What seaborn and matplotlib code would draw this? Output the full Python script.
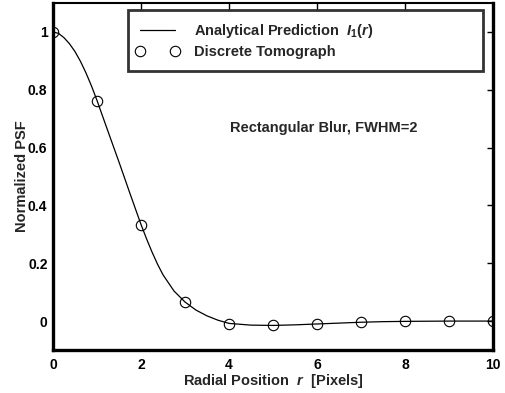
import matplotlib
matplotlib.use("Agg")
import matplotlib.pyplot as plt
from matplotlib.lines import Line2D
from matplotlib.legend_handler import HandlerLine2D
import seaborn as sns
import pandas as pd

# Analytical curve values
curve_r = [0, 0.125, 0.25, 0.375, 0.5, 0.625, 0.75, 0.875, 1.0, 1.25, 1.5, 1.75,
           2.0, 2.125, 2.25, 2.375, 2.5, 2.75, 3.0, 3.25, 3.5, 3.75, 4.0, 4.5, 5.0,
           5.5, 6.0, 6.5, 7.0, 7.5, 8.0, 9.0, 10.0]
curve_psf = [1.0, 0.995, 0.98, 0.959, 0.932, 0.898, 0.858, 0.813, 0.763, 0.656,
             0.55, 0.441, 0.334, 0.285, 0.239, 0.197, 0.160, 0.104, 0.066, 0.038,
             0.018, 0.003, -0.008, -0.014, -0.015, -0.013, -0.010, -0.007, -0.004,
             -0.002, -0.001, 0.0, 0.0]

# Discrete tomograph samples
disc_r = [0, 1, 2, 3, 4, 5, 6, 7, 8, 9, 10]
disc_psf = [1.0, 0.762, 0.334, 0.067, -0.009, -0.015, -0.009, -0.004, 0.0, 0.0, 0.0]

x_ticks = [0, 2, 4, 6, 8, 10]
y_ticks = [0, 0.2, 0.4, 0.6, 0.8, 1.0]
y_tick_labels = ["0", "0.2", "0.4", "0.6", "0.8", "1"]

sns.set_theme(style="white")
plt.rcParams["font.family"] = ["Liberation Sans", "DejaVu Sans"]
plt.rcParams["font.weight"] = "bold"
plt.rcParams["mathtext.fontset"] = "custom"
plt.rcParams["mathtext.it"] = "Liberation Sans:italic"
plt.rcParams["mathtext.rm"] = "Liberation Sans:bold"

fig = plt.figure(figsize=(5.06, 3.93), dpi=100)
ax = fig.add_axes([53/506, 1-350/393, 440/506, 347/393])

df_curve = pd.DataFrame({"r": curve_r, "psf": curve_psf})
df_disc = pd.DataFrame({"r": disc_r, "psf": disc_psf})

sns.lineplot(data=df_curve, x="r", y="psf", ax=ax, color="black", lw=0.9,
             label=r"Analytical Prediction  $\mathit{I}_{\mathit{1}}\mathit{(r)}$", sort=False)
sns.lineplot(data=df_disc, x="r", y="psf", ax=ax, color="black", linestyle="",
             marker="o", markersize=7.5, markerfacecolor="none", markeredgecolor="black",
             markeredgewidth=0.8, label="Discrete Tomograph", sort=False)

ax.set_xlim(0, 10)
ax.set_ylim(-0.1, 1.1)
ax.set_xticks(x_ticks)
ax.set_yticks(y_ticks)
ax.set_yticklabels(y_tick_labels)
ax.tick_params(direction="in", length=4, width=1, top=True, right=True,
               labelsize=10, colors="black")
ax.tick_params(axis="x", pad=6)
ax.tick_params(axis="y", pad=4)
for lab in ax.get_xticklabels() + ax.get_yticklabels():
    lab.set_fontweight("bold")

for side in ["left", "bottom", "right"]:
    ax.spines[side].set_linewidth(2.4)
    ax.spines[side].set_color("black")
ax.spines["top"].set_linewidth(1.5)
ax.spines["top"].set_color("black")

ax.set_xlabel(r"Radial Position  $\mathit{r}$  [Pixels]", fontsize=10.5,
              fontweight="bold", labelpad=0)
ax.set_ylabel("Normalized PSF", fontsize=10.5, fontweight="bold", labelpad=-0.5)

ax.text(6.15, 0.667, "Rectangular Blur, FWHM=2", fontsize=10.5, fontweight="bold",
        ha="center", va="center")

leg = ax.legend(loc="upper left", bbox_to_anchor=(0.170, 0.798, 0.807, 0.182),
                mode="expand", borderaxespad=0, numpoints=2, handlelength=2.4,
                handletextpad=1.3, fontsize=10.5, frameon=True, fancybox=False,
                borderpad=0.85, labelspacing=0.3,
                handler_map={Line2D: HandlerLine2D(marker_pad=0)})
leg.get_frame().set_edgecolor("black")
leg.get_frame().set_linewidth(2.0)
for t in leg.get_texts():
    t.set_fontweight("bold")

fig.savefig("out.png", dpi=100)
